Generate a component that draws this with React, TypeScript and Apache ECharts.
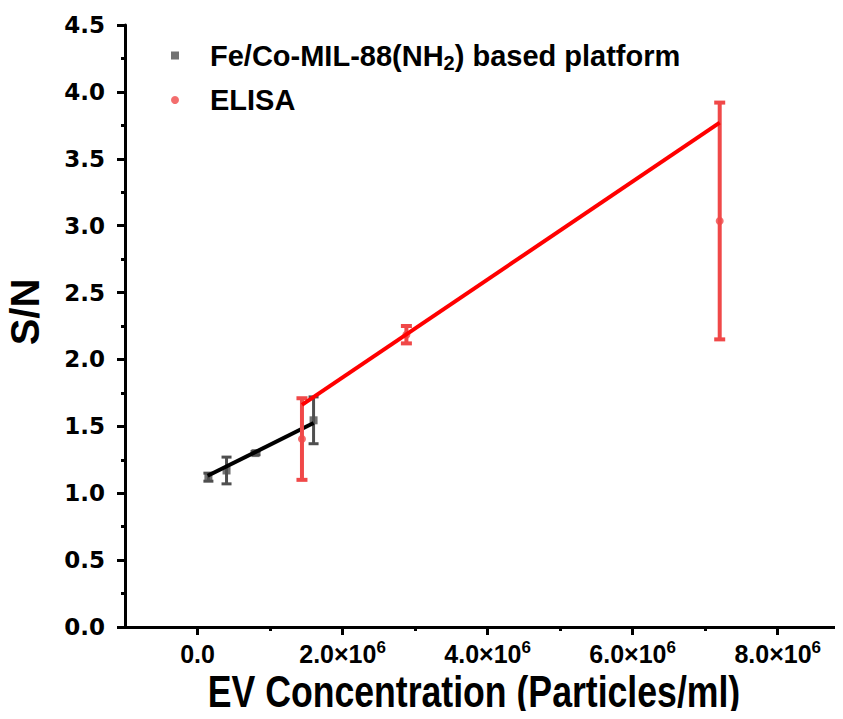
import React, { useEffect, useRef } from "react";
import * as echarts from "echarts";

// ---- data ----
const FE_NAME = "Fe/Co-MIL-88(NH2) based platform";
const ELISA_NAME = "ELISA";

const feX = [1.5e5, 4e5, 8e5, 1.6e6];
const feY = [1.12, 1.17, 1.3, 1.545];
const feErr = [0.03, 0.1, 0.012, 0.175];
const feFitX = [1.4e5, 1.6e6];
const feFitY = [1.13, 1.525];

const elisaX = [1.44e6, 2.88e6, 7.2e6];
const elisaY = [1.405, 2.185, 3.035];
const elisaErr = [0.305, 0.065, 0.885];
const elisaFitX = [1.44e6, 7.2e6];
const elisaFitY = [1.66, 3.77];

const xMajorTicks = [0, 2e6, 4e6, 6e6, 8e6];
const xMinorTicks = [1e6, 3e6, 5e6, 7e6];
const xTickLabels = ["0.0", "2.0×10{sup|6}", "4.0×10{sup|6}", "6.0×10{sup|6}", "8.0×10{sup|6}"];
const X_TITLE = "EV Concentration (Particles/ml)";
const Y_TITLE = "S/N";

const FE_COLOR = "#4f4f4f";
const FE_LINE = "#000000";
const EL_COLOR = "#f04848";
const EL_LINE = "#ff0000";
const SANS = "Liberation Sans, Arial, sans-serif";

function errorBarSeries(xs: number[], ys: number[], es: number[], color: string, width: number, capHalf: number, z: number) {
  return {
    type: "custom",
    z,
    silent: true,
    data: xs.map((x, i) => [x, ys[i], es[i]]),
    encode: { x: 0, y: 1 },
    renderItem: (params: any, api: any) => {
      const x = api.value(0);
      const y = api.value(1);
      const e = api.value(2);
      const t = api.coord([x, y + e]);
      const b = api.coord([x, y - e]);
      const st = { stroke: color, lineWidth: width };
      return {
        type: "group",
        children: [
          { type: "line", shape: { x1: t[0], y1: t[1], x2: b[0], y2: b[1] }, style: st },
          { type: "line", shape: { x1: t[0] - capHalf, y1: t[1], x2: t[0] + capHalf, y2: t[1] }, style: st },
          { type: "line", shape: { x1: b[0] - capHalf, y1: b[1], x2: b[0] + capHalf, y2: b[1] }, style: st },
        ],
      };
    },
  };
}

export default function App() {
  const ref = useRef<HTMLDivElement>(null);
  useEffect(() => {
    if (!ref.current) return;
    const chart = echarts.init(ref.current, null, { renderer: "svg" });
    const option: any = {
      animation: false,
      backgroundColor: "#ffffff",
      grid: { left: 125, top: 25, right: 0, bottom: 92, containLabel: false, outerBoundsMode: "none" },
      legend: {
        orient: "vertical",
        left: 166,
        top: 36,
        itemGap: 13,
        itemWidth: 8,
        itemHeight: 8,
        data: [
          { name: FE_NAME, icon: "rect" },
          { name: ELISA_NAME, icon: "circle" },
        ],
        formatter: (name: string) =>
          name === FE_NAME ? "{t|Fe/Co-MIL-88(NH}{s|2}{t|) based platform}" : "{t|ELISA}",
        textStyle: {
          padding: [0, 0, 0, 26],
          rich: {
            t: { fontFamily: SANS, fontWeight: "bold", fontSize: 29, color: "#000", lineHeight: 34 },
            s: { fontFamily: SANS, fontWeight: "bold", fontSize: 20, color: "#000", lineHeight: 18, verticalAlign: "bottom" },
          },
        },
      },
      graphic: [
        {
          type: "text",
          x: 474,
          y: 692,
          scaleX: 0.81,
          silent: true,
          style: {
            text: X_TITLE,
            fontFamily: SANS,
            fontWeight: "bold",
            fontSize: 44,
            fill: "#000",
            textAlign: "center",
            textVerticalAlign: "middle",
          },
        },
      ],
      xAxis: [
        {
          type: "value",
          min: -1e6,
          max: 8.9e6,
          interval: 1e6,
          position: "bottom",
          axisLine: { show: true, onZero: false, lineStyle: { color: "#000", width: 3 } },
          axisTick: { show: true, length: 8, lineStyle: { color: "#000", width: 3 }, customValues: xMajorTicks },
          splitLine: { show: false },
          axisLabel: {
            customValues: xMajorTicks,
            margin: 12,
            formatter: (v: number) => xTickLabels[xMajorTicks.indexOf(v)] ?? "",
            fontFamily: SANS,
            fontWeight: "bold",
            fontSize: 25,
            color: "#000",
            lineHeight: 30,
            rich: {
              sup: {
                fontFamily: SANS,
                fontWeight: "bold",
                fontSize: 17,
                color: "#000",
                lineHeight: 14,
                verticalAlign: "top",
              },
            },
          },
        },
        {
          type: "value",
          min: -1e6,
          max: 8.9e6,
          interval: 1e6,
          position: "bottom",
          axisLine: { show: false, onZero: false },
          axisTick: { show: true, length: 4, lineStyle: { color: "#000", width: 3 }, customValues: xMinorTicks },
          axisLabel: { show: false },
          splitLine: { show: false },
        },
      ],
      yAxis: {
        type: "value",
        min: 0,
        max: 4.5,
        interval: 0.5,
        name: Y_TITLE,
        nameLocation: "middle",
        nameGap: 80,
        nameTextStyle: {
          fontFamily: SANS,
          fontWeight: "bold",
          fontSize: 40,
          color: "#000",
          padding: [0, 0, 0, 28],
        },
        axisLine: { show: true, onZero: false, lineStyle: { color: "#000", width: 3 } },
        axisTick: { show: true, length: 8, lineStyle: { color: "#000", width: 3 } },
        minorTick: { show: true, splitNumber: 2, length: 4, lineStyle: { color: "#000", width: 3 } },
        splitLine: { show: false },
        axisLabel: {
          margin: 20,
          formatter: (v: number) => v.toFixed(1),
          fontFamily: "DejaVu Sans, sans-serif",
          fontWeight: "bold",
          fontSize: 23,
          color: "#000",
        },
      },
      series: [
        errorBarSeries(feX, feY, feErr, FE_COLOR, 3, 5, 2),
        {
          name: FE_NAME,
          type: "scatter",
          symbol: "rect",
          symbolSize: 8,
          itemStyle: { color: FE_COLOR },
          data: feX.map((x, i) => [x, feY[i]]),
          z: 3,
        },
        {
          type: "line",
          data: feFitX.map((x, i) => [x, feFitY[i]]),
          showSymbol: false,
          symbol: "none",
          lineStyle: { color: FE_LINE, width: 4 },
          z: 4,
          silent: true,
        },
        errorBarSeries(elisaX, elisaY, elisaErr, EL_COLOR, 4, 5.5, 5),
        {
          name: ELISA_NAME,
          type: "scatter",
          symbol: "circle",
          symbolSize: 8,
          itemStyle: { color: EL_COLOR },
          data: elisaX.map((x, i) => [x, elisaY[i]]),
          z: 6,
        },
        {
          type: "line",
          data: elisaFitX.map((x, i) => [x, elisaFitY[i]]),
          showSymbol: false,
          symbol: "none",
          lineStyle: { color: EL_LINE, width: 4 },
          z: 7,
          silent: true,
        },
      ],
    };
    chart.setOption(option);
    return () => chart.dispose();
  }, []);
  return <div ref={ref} style={{ width: 843, height: 719, margin: -8 }} />;
}
